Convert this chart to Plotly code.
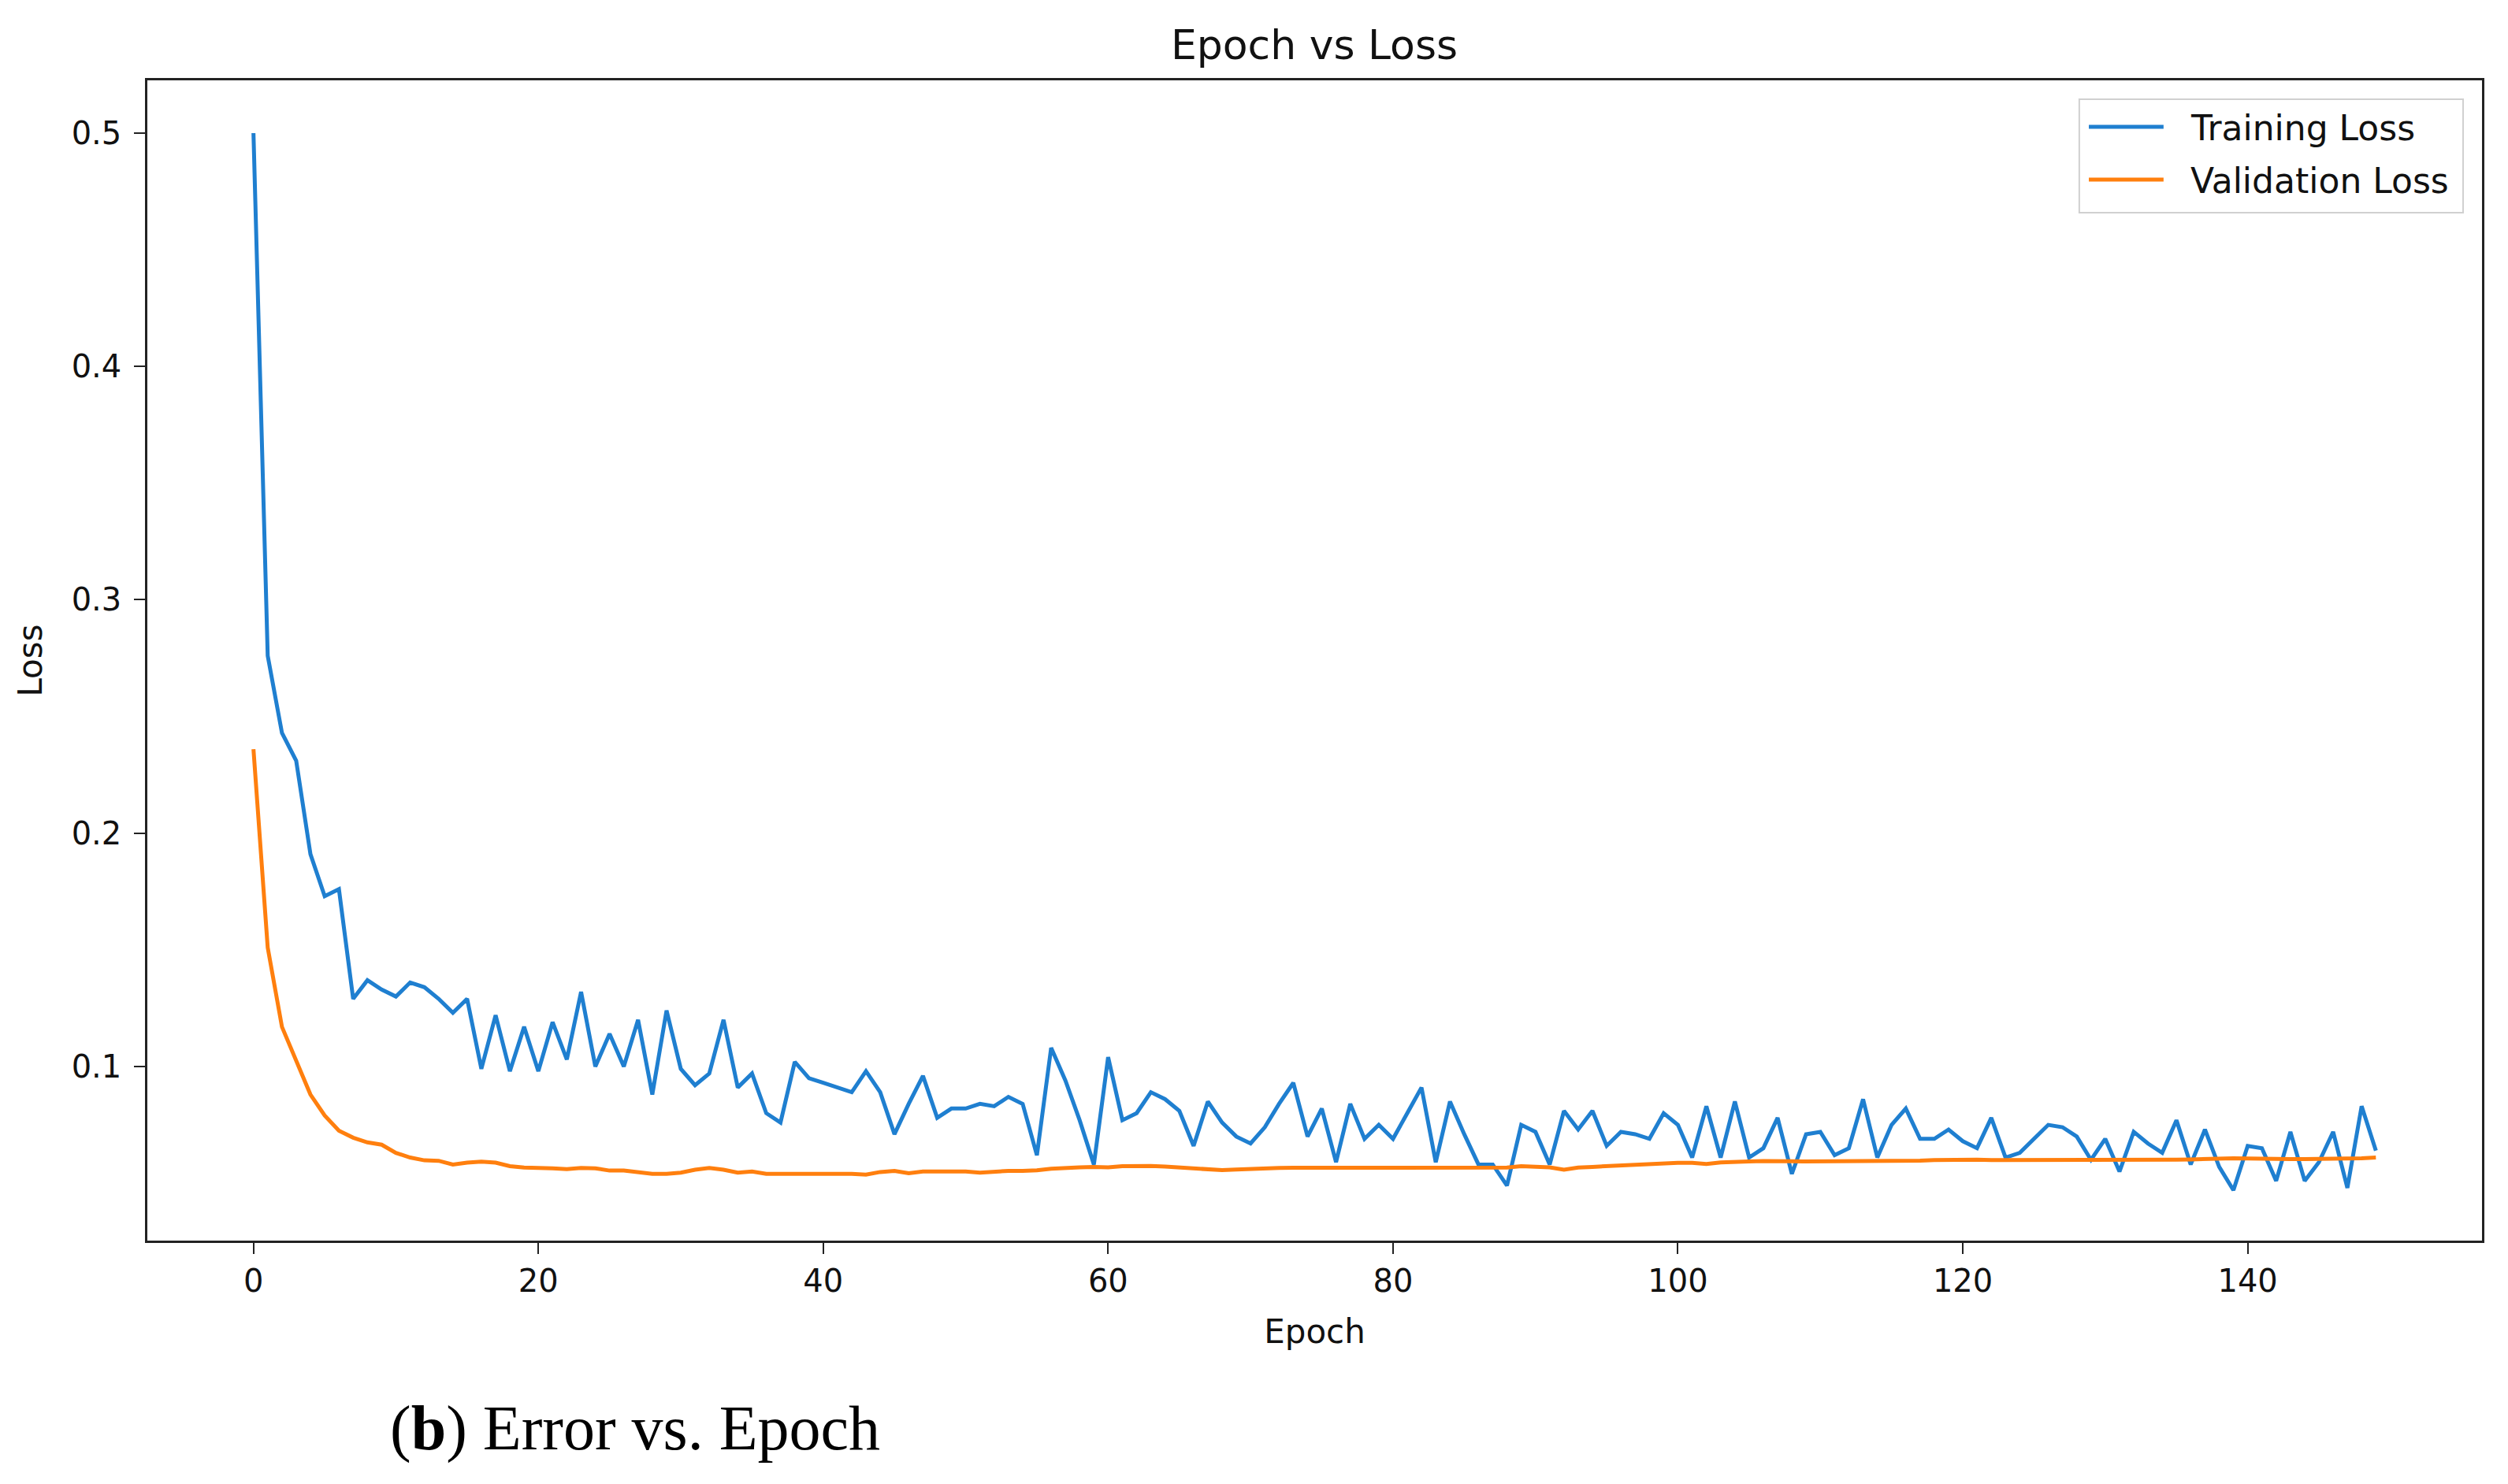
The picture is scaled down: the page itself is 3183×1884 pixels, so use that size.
import plotly.graph_objects as go

epochs = list(range(150))

training_loss = [
    0.500, 0.276, 0.243, 0.231, 0.191, 0.173, 0.176, 0.129, 0.137, 0.133,
    0.130, 0.136, 0.134, 0.129, 0.123, 0.129, 0.099, 0.122, 0.098, 0.117,
    0.098, 0.119, 0.103, 0.132, 0.100, 0.114, 0.100, 0.120, 0.088, 0.124,
    0.099, 0.092, 0.097, 0.120, 0.091, 0.097, 0.080, 0.076, 0.102, 0.095,
    0.093, 0.091, 0.089, 0.098, 0.089, 0.071, 0.084, 0.096, 0.078, 0.082,
    0.082, 0.084, 0.083, 0.087, 0.084, 0.062, 0.108, 0.094, 0.077, 0.058,
    0.104, 0.077, 0.080, 0.089, 0.086, 0.081, 0.066, 0.085, 0.076, 0.070,
    0.067, 0.074, 0.084, 0.093, 0.070, 0.082, 0.059, 0.084, 0.069, 0.075,
    0.069, 0.080, 0.091, 0.059, 0.085, 0.071, 0.058, 0.058, 0.049, 0.075,
    0.072, 0.058, 0.081, 0.073, 0.081, 0.066, 0.072, 0.071, 0.069, 0.080,
    0.075, 0.061, 0.083, 0.061, 0.085, 0.061, 0.065, 0.078, 0.054, 0.071,
    0.072, 0.062, 0.065, 0.086, 0.061, 0.075, 0.082, 0.069, 0.069, 0.073,
    0.068, 0.065, 0.078, 0.061, 0.063, 0.069, 0.075, 0.074, 0.070, 0.060,
    0.069, 0.055, 0.072, 0.067, 0.063, 0.077, 0.058, 0.073, 0.057, 0.047,
    0.066, 0.065, 0.051, 0.072, 0.051, 0.059, 0.072, 0.048, 0.083, 0.064,
]

validation_loss = [
    0.236, 0.151, 0.117, 0.103, 0.088, 0.079, 0.0725, 0.0695, 0.0675, 0.0665,
    0.063, 0.061, 0.0598, 0.0596, 0.058, 0.0588, 0.0592, 0.0588, 0.0573, 0.0567,
    0.0567, 0.0564, 0.056, 0.0565, 0.0564, 0.0554, 0.0554, 0.0545, 0.054, 0.054,
    0.0545, 0.0558, 0.0565, 0.0558, 0.0545, 0.055, 0.054, 0.054, 0.054, 0.0542,
    0.0543, 0.0543, 0.054, 0.0537, 0.0548, 0.0553, 0.0543, 0.055, 0.055, 0.055,
    0.055, 0.0545, 0.055, 0.0553, 0.0553, 0.0555, 0.0562, 0.0567, 0.0568, 0.057,
    0.0568, 0.0573, 0.0575, 0.0574, 0.0571, 0.0567, 0.0563, 0.056, 0.0556, 0.0559,
    0.0562, 0.0564, 0.0565, 0.0566, 0.0566, 0.0567, 0.0568, 0.0567, 0.0565, 0.0564,
    0.0565, 0.0566, 0.0565, 0.0565, 0.0564, 0.0564, 0.0564, 0.0565, 0.0567, 0.0573,
    0.057, 0.0568, 0.0558, 0.0567, 0.057, 0.0573, 0.0577, 0.0581, 0.0584, 0.0587,
    0.0587, 0.0587, 0.0582, 0.0589, 0.0593, 0.0593, 0.0595, 0.0596, 0.0594, 0.0593,
    0.0593, 0.0593, 0.0594, 0.0594, 0.0596, 0.0596, 0.0596, 0.0597, 0.0599, 0.0601,
    0.0603, 0.0601, 0.0599, 0.0599, 0.0599, 0.0599, 0.0599, 0.0599, 0.0599, 0.0597,
    0.0598, 0.06, 0.06, 0.06, 0.06, 0.0601, 0.0602, 0.0605, 0.0607, 0.0607,
    0.0606, 0.0604, 0.0603, 0.0603, 0.0603, 0.0603, 0.0604, 0.0605, 0.0607, 0.061,
]

series_names = ["Training Loss", "Validation Loss"]
series_colors = ["#1f7fd0", "#ff7f0e"]

x_ticks = [0, 20, 40, 60, 80, 100, 120, 140]
y_ticks = [0.1, 0.2, 0.3, 0.4, 0.5]
y_tick_labels = ["0.1", "0.2", "0.3", "0.4", "0.5"]

# page is 3183x1884; the html body has an 8px default margin
W, H = 3167, 1868
FONT = "DejaVu Sans"
INK = "#111111"

fig = go.Figure()
for name, ys, col in zip(series_names, [training_loss, validation_loss], series_colors):
    fig.add_trace(go.Scatter(x=epochs, y=ys, mode="lines", name=name,
                             line=dict(color=col, width=5)))

axis_common = dict(showline=True, linecolor="#222222", linewidth=2.5, mirror=True,
                   ticks="outside", ticklen=14, tickwidth=2, tickcolor="#222222",
                   showgrid=False, zeroline=False,
                   tickfont=dict(family=FONT, size=40, color=INK))

fig.update_layout(
    width=W, height=H,
    paper_bgcolor="white", plot_bgcolor="white",
    margin=dict(l=179, r=25, t=94, b=301),
    title=dict(text="Epoch vs Loss", x=(1668 - 8) / W, xanchor="center", y=1 - 49 / H, yanchor="middle",
               font=dict(family=FONT, size=52, color=INK)),
    xaxis=dict(range=[-7.45, 156.45], tickvals=x_ticks,
               title=dict(text="Epoch", font=dict(family=FONT, size=42, color=INK), standoff=28),
               **axis_common),
    yaxis=dict(range=[0.0254, 0.5226], tickvals=y_ticks, ticktext=y_tick_labels,
               ticklabelstandoff=8,
               title=dict(text="Loss", font=dict(family=FONT, size=42, color=INK), standoff=24),
               **axis_common),
    showlegend=False,
)

# legend box drawn in the style of the reference (paper coordinates of the plot area)
fig.add_shape(type="rect", xref="paper", yref="paper", x0=0.8275, x1=0.9919, y0=0.8860, y1=0.9837,
              line=dict(color="#d0d0d0", width=2), fillcolor="white", layer="above")
legend_y = [0.9600, 0.9145]
for name, col, ly in zip(series_names, series_colors, legend_y):
    fig.add_shape(type="line", xref="paper", yref="paper", x0=0.8316, x1=0.8636, y0=ly, y1=ly,
                  line=dict(color=col, width=5), layer="above")
    fig.add_annotation(text=name, xref="paper", yref="paper", x=0.8744, y=ly - 0.001,
                       xanchor="left", yanchor="middle", showarrow=False,
                       font=dict(family=FONT, size=44, color=INK))

fig.add_annotation(text="(<b>b</b>) Error vs. Epoch", xref="paper", yref="paper",
                   x=(493 - 187) / 2963, y=(1575 - 1813) / 1473, xanchor="left", yanchor="middle",
                   showarrow=False, font=dict(family="Liberation Serif", size=80, color="#000000"))

fig.write_html("out.html")
